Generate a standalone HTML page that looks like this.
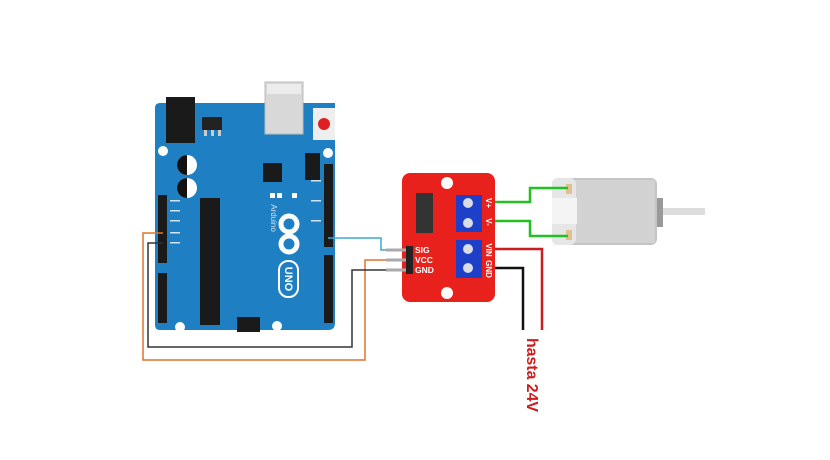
<!DOCTYPE html>
<html><head><style>body{margin:0;background:#fff}svg{display:block}</style></head><body>
<svg width="830" height="460" viewBox="0 0 830 460" xmlns="http://www.w3.org/2000/svg" font-family="Liberation Sans, sans-serif">
<rect width="830" height="460" fill="#fff"/>
<!-- board -->
<path d="M160 103 H335 V323 Q335 330 328 330 H160 Q155 330 155 325 V108 Q155 103 160 103Z" fill="#1e7fc2"/>
<!-- USB -->
<rect x="265" y="82" width="38" height="52" fill="#d8d8d8" stroke="#bbb"/>
<rect x="267" y="84" width="34" height="10" fill="#ececec"/>
<rect x="166" y="97" width="29" height="46" fill="#1a1a1a"/>
<rect x="202" y="117" width="20" height="13" fill="#222"/>
<rect x="204" y="130" width="3" height="6" fill="#ccc"/><rect x="211" y="130" width="3" height="6" fill="#ccc"/><rect x="218" y="130" width="3" height="6" fill="#ccc"/>
<rect x="313" y="108" width="22" height="32" fill="#eee"/>
<circle cx="324" cy="124" r="6" fill="#e02020"/>
<g fill="#fff"><circle cx="163" cy="151" r="5"/><circle cx="328" cy="153" r="5"/><circle cx="180" cy="327" r="5"/><circle cx="277" cy="326" r="5"/></g>
<circle cx="187" cy="165" r="10" fill="#fff"/><path d="M187 155 A10 10 0 0 0 187 175Z" fill="#111"/>
<circle cx="187" cy="188" r="10" fill="#fff"/><path d="M187 178 A10 10 0 0 0 187 198Z" fill="#111"/>
<rect x="200" y="198" width="20" height="127" fill="#1a1a1a"/>
<rect x="263" y="163" width="19" height="19" fill="#1a1a1a"/>
<rect x="305" y="153" width="15" height="27" fill="#1a1a1a"/>
<rect x="324" y="164" width="9" height="83" fill="#1a1a1a"/>
<rect x="324" y="255" width="9" height="68" fill="#1a1a1a"/>
<rect x="158" y="195" width="9" height="68" fill="#1a1a1a"/>
<rect x="158" y="273" width="9" height="50" fill="#1a1a1a"/>
<rect x="237" y="317" width="23" height="15" fill="#1a1a1a"/>
<rect x="270" y="193" width="5" height="5" fill="#fff"/><rect x="277" y="193" width="5" height="5" fill="#fff"/><rect x="292" y="193" width="5" height="5" fill="#fff"/>
<g fill="none" stroke="#fff" stroke-width="5"><circle cx="289" cy="224" r="8"/><circle cx="289" cy="244" r="8"/></g>
<rect x="279" y="261" width="19" height="36" rx="9" fill="none" stroke="#fff" stroke-width="2"/>
<text transform="translate(285,279) rotate(90)" text-anchor="middle" font-size="11" fill="#fff" font-weight="bold">UNO</text>
<text transform="translate(271,218) rotate(90)" text-anchor="middle" font-size="8" fill="#cfe3f3">Arduino</text>
<g fill="#cfe3f3"><rect x="170" y="200" width="10" height="1.5"/><rect x="170" y="210" width="10" height="1.5"/><rect x="170" y="220" width="10" height="1.5"/><rect x="170" y="232" width="10" height="1.5"/><rect x="170" y="242" width="10" height="1.5"/><rect x="311" y="180" width="10" height="1.5"/><rect x="311" y="200" width="10" height="1.5"/><rect x="311" y="220" width="10" height="1.5"/></g>
<!-- wires -->
<polyline points="328,238 381,238 381,250 390,250" fill="none" stroke="#3aa8d8" stroke-width="1.5"/>
<polyline points="163,233 143,233 143,360 365,360 365,260 390,260" fill="none" stroke="#e0742a" stroke-width="1.5"/>
<polyline points="163,243 148,243 148,347 352,347 352,270 390,270" fill="none" stroke="#333" stroke-width="1.5"/>
<!-- module -->
<rect x="402" y="173" width="93" height="129" rx="8" fill="#e8211c"/>
<circle cx="447" cy="183" r="6" fill="#fff"/><circle cx="447" cy="293" r="6" fill="#fff"/>
<rect x="416" y="193" width="17" height="40" fill="#333"/>
<rect x="456" y="195" width="26" height="37" fill="#1e3fc8"/>
<rect x="456" y="240" width="26" height="38" fill="#1e3fc8"/>
<g fill="#d8dde8"><circle cx="468" cy="203" r="5"/><circle cx="468" cy="223" r="5"/><circle cx="468" cy="249" r="5"/><circle cx="468" cy="268" r="5"/></g>
<g fill="#aaa"><rect x="386" y="248.5" width="22" height="3"/><rect x="386" y="258.5" width="22" height="3"/><rect x="386" y="268.5" width="22" height="3"/></g>
<rect x="406" y="246" width="7" height="28" fill="#222"/>
<g font-size="8.5" font-weight="bold" fill="#fff"><text x="415" y="253">SIG</text><text x="415" y="263">VCC</text><text x="415" y="273">GND</text></g>
<g font-size="8" font-weight="bold" fill="#fff">
<text transform="translate(486,203) rotate(90)" text-anchor="middle">V+</text>
<text transform="translate(486,222) rotate(90)" text-anchor="middle">V-</text>
<text transform="translate(486,250) rotate(90)" text-anchor="middle">VIN</text>
<text transform="translate(486,269) rotate(90)" text-anchor="middle">GND</text></g>
<!-- motor -->
<rect x="552" y="178" width="105" height="67" rx="6" fill="#c4c4c4"/>
<rect x="575" y="180" width="80" height="63" fill="#d2d2d2"/>
<rect x="552" y="178" width="24" height="67" rx="6" fill="#e6e6e6"/>
<rect x="552" y="198" width="25" height="26" fill="#f4f4f4"/>
<rect x="657" y="198" width="6" height="29" fill="#999"/>
<rect x="663" y="208" width="42" height="7" fill="#ddd"/>
<rect x="566" y="184" width="6" height="10" fill="#e0c090"/><rect x="566" y="230" width="6" height="10" fill="#e0c090"/>
<polyline points="495,202 530,202 530,188 568,188" fill="none" stroke="#22c022" stroke-width="2.5"/>
<polyline points="495,221 530,221 530,236 568,236" fill="none" stroke="#22c022" stroke-width="2.5"/>
<polyline points="495,249 542,249 542,330" fill="none" stroke="#cc1d1d" stroke-width="2.5"/>
<polyline points="495,268 523,268 523,330" fill="none" stroke="#111" stroke-width="2.5"/>
<text transform="translate(527,338) rotate(90)" font-size="16" font-weight="bold" fill="#cc1d1d" textLength="74" lengthAdjust="spacingAndGlyphs">hasta 24V</text>
</svg>
</body></html>
